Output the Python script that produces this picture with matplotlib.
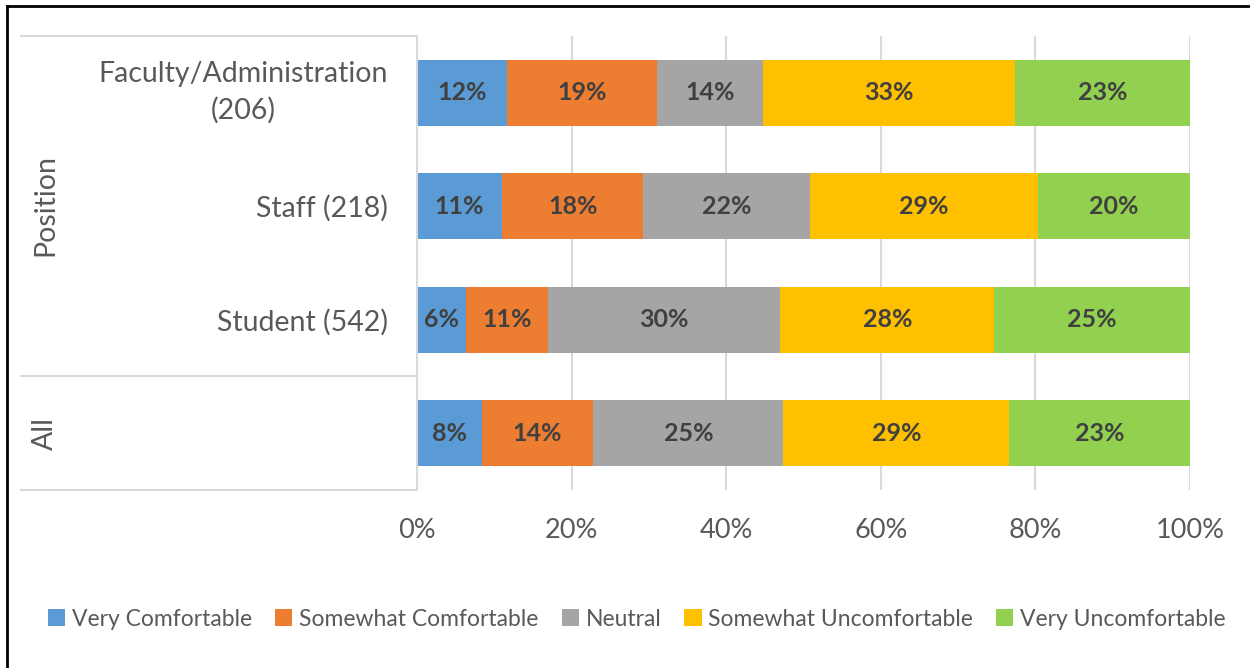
import numpy as np
import matplotlib
matplotlib.use('Agg')
import matplotlib.pyplot as plt
from matplotlib.lines import Line2D

plt.rcParams['font.family'] = ['Lato', 'DejaVu Sans']

categories = ['Faculty/Administration\n(206)', 'Staff (218)', 'Student (542)', '']
series = ['Very Comfortable', 'Somewhat Comfortable', 'Neutral',
          'Somewhat Uncomfortable', 'Very Uncomfortable']
very_comf = [11.7, 11.0, 6.3, 8.4]
some_comf = [19.4, 18.3, 10.7, 14.4]
neutral = [13.6, 21.6, 30.0, 24.6]
some_uncomf = [32.6, 29.4, 27.7, 29.2]
very_uncomf = [22.7, 19.7, 25.3, 23.4]
colors = ['#5b9bd5', '#ed7d31', '#a5a5a5', '#ffc000', '#92d050']

values = [very_comf, some_comf, neutral, some_uncomf, very_uncomf]

fig = plt.figure(figsize=(12.5, 6.68), dpi=100)
ax = fig.add_axes([417 / 1250, 1 - 490 / 668, 773 / 1250, 454 / 668])

y = np.arange(len(categories))
left = np.zeros(len(categories))
for name, vals, c in zip(series, values, colors):
    bars = ax.barh(y, vals, left=left, height=0.58, color=c, label=name)
    for b, v in zip(bars, vals):
        ax.text(b.get_x() + b.get_width() / 2, b.get_y() + b.get_height() / 2,
                f'{round(v)}%', ha='center', va='center', fontsize=18,
                fontweight='bold', color='#404040')
    left += np.array(vals)

ax.set_xlim(0, 100)
ax.set_ylim(len(categories) - 0.5, -0.5)
ax.set_xticks(np.arange(0, 101, 20))
ax.set_xticklabels([f'{t}%' for t in range(0, 101, 20)])
ax.tick_params(axis='x', length=0, pad=20, labelsize=19.5, labelcolor='#595959')
ax.set_yticks(y)
ax.set_yticklabels(categories, ha='right', multialignment='center', linespacing=1.45)
ax.tick_params(axis='y', length=0, pad=21, labelsize=20.5, labelcolor='#595959')
ax.get_yticklabels()[0].set_verticalalignment('center')
ax.grid(axis='x', color='#d9d9d9', linewidth=1.5)
ax.set_axisbelow(True)
for s in ['top', 'right', 'bottom']:
    ax.spines[s].set_visible(False)
ax.spines['left'].set_color('#d9d9d9')
ax.spines['left'].set_linewidth(1.5)

# group lines on the left axis
for yy in [36, 376, 490]:
    fig.add_artist(Line2D([21 / 1250, 417 / 1250], [1 - yy / 668, 1 - yy / 668],
                          color='#d9d9d9', linewidth=1.5))
fig.text(45 / 1250, 1 - 205 / 668, 'Position', rotation=90, ha='center', va='center',
         fontsize=20.5, color='#595959')
fig.text(45 / 1250, 1 - 433 / 668, 'All', rotation=90, ha='center', va='center',
         fontsize=20.5, color='#595959')

# figure border (top and left visible)
fig.add_artist(Line2D([7 / 1250, 1], [1 - 6 / 668, 1 - 6 / 668], color='black', linewidth=2))
fig.add_artist(Line2D([7 / 1250, 7 / 1250], [0, 1 - 6 / 668], color='black', linewidth=2))

fig.legend(loc='center', bbox_to_anchor=(637 / 1250, 1 - 619 / 668), ncol=5, frameon=False,
           fontsize=16.5, labelcolor='#595959', handlelength=0.75, handleheight=0.75,
           handletextpad=0.3, columnspacing=1.0)

fig.savefig('out.png', dpi=100)
